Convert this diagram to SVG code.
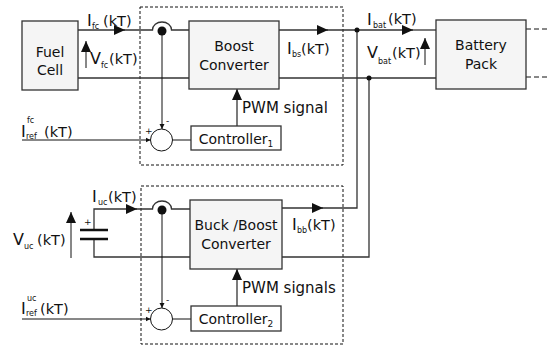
<svg xmlns="http://www.w3.org/2000/svg" width="547" height="347" viewBox="0 0 547 347">
<defs>
<marker id="arr" markerUnits="userSpaceOnUse" markerWidth="12" markerHeight="10" refX="11" refY="5" orient="auto">
<path d="M0,0 L11,5 L0,10 Z" fill="#111"/>
</marker>
<marker id="sarr" markerUnits="userSpaceOnUse" markerWidth="6" markerHeight="6" refX="5" refY="3" orient="auto">
<path d="M0,0.5 L5,3 L0,5.5 Z" fill="#111"/>
</marker>
</defs>
<style>
.box{fill:#f5f5f5;stroke:#333;stroke-width:1.3}
.ctl{fill:#fff;stroke:#333;stroke-width:1.3}
.dash{fill:none;stroke:#111;stroke-width:1;stroke-dasharray:3,2}
.w{fill:none;stroke:#333;stroke-width:1.3}
.thin{fill:none;stroke:#111;stroke-width:1}
.sum{fill:#fff;stroke:#111;stroke-width:1}
.dot{fill:#111}
text{font-family:"DejaVu Sans",sans-serif;fill:#111}
.bt{font-size:14px;text-anchor:middle}
.lb{font-size:14.5px}
.big{font-size:16px}
.sb{font-size:8px}
.pwm{font-size:15px}
.sg{font-size:9px}
</style>

<g id="area1"><rect class="dash" x="140" y="7" width="203" height="158"/></g>
<g id="area2"><rect class="dash" x="141" y="186" width="202" height="158"/></g>

<g id="connectors">
<path class="w" d="M78,30 H125" marker-end="url(#arr)"/>
<path class="w" d="M124,30 H152.5 A9.5,8 0 0 1 171.5,30 H189"/>
<path class="w" d="M78,78 H189"/>
<path class="w" d="M279,30 H328" marker-end="url(#arr)"/>
<path class="w" d="M327,30 H413" marker-end="url(#arr)"/>
<path class="w" d="M412,30 H436"/>
<path class="w" d="M279,78 H436"/>
<path class="w" d="M282,208 H323" marker-end="url(#arr)"/>
<path class="w" d="M322,208 H357 V30"/>
<path class="w" d="M282,257 H369 V78"/>
<path class="thin" d="M162,31 V129" marker-end="url(#sarr)"/>
<path class="thin" d="M22,140 H150.5" marker-end="url(#sarr)"/>
<path class="thin" d="M172.5,140 H191"/>
<path class="w" d="M237,126 V89" marker-end="url(#arr)"/>
<path class="w" d="M94,230 V209 H137" marker-end="url(#arr)"/>
<path class="w" d="M136,209 H152.5 A9.5,8 0 0 1 171.5,209 H190"/>
<path class="w" d="M94,239 V257 H190"/>
<path class="thin" d="M162,210 V308" marker-end="url(#sarr)"/>
<path class="thin" d="M22,319 H150.5" marker-end="url(#sarr)"/>
<path class="thin" d="M172.5,319 H191"/>
<path class="w" d="M237,306 V269" marker-end="url(#arr)"/>
<path class="thin" d="M86,68 V41" marker-end="url(#arr)"/>
<path class="thin" d="M425,65 V38" marker-end="url(#arr)"/>
<path class="thin" d="M71,258 V212" marker-end="url(#arr)"/>
<path class="dash" d="M526,29 H547 M526,77 H547" style="stroke-dasharray:5,3"/>
<circle class="dot" cx="162" cy="31" r="4.5"/>
<circle class="dot" cx="162" cy="210" r="4.5"/>
<circle class="dot" cx="357" cy="30" r="2.5"/>
<circle class="dot" cx="369" cy="78" r="2.5"/>
</g>

<g id="fuelcell">
<rect class="box" x="22" y="21" width="56" height="69"/>
<text class="bt" x="50" y="57">Fuel</text>
<text class="bt" x="50" y="75">Cell</text>
</g>

<g id="boost">
<rect class="box" x="189" y="21" width="90" height="68"/>
<text class="bt" x="234" y="51">Boost</text>
<text class="bt" x="234" y="70">Converter</text>
</g>

<g id="battery">
<rect class="box" x="436" y="20" width="90" height="69"/>
<text class="bt" x="481" y="50">Battery</text>
<text class="bt" x="481" y="69">Pack</text>
</g>

<g id="buckboost">
<rect class="box" x="190" y="200" width="92" height="69"/>
<text class="bt" x="236" y="230">Buck /Boost</text>
<text class="bt" x="236" y="249">Converter</text>
</g>

<g id="controller1">
<rect class="ctl" x="191" y="126" width="90" height="24"/>
<text class="bt" x="236" y="144">Controller<tspan font-size="9" dy="3">1</tspan></text>
</g>

<g id="controller2">
<rect class="ctl" x="191" y="306" width="90" height="25"/>
<text class="bt" x="236" y="324">Controller<tspan font-size="9" dy="3">2</tspan></text>
</g>

<g id="sum1">
<circle class="sum" cx="161.5" cy="140" r="11"/>
<text class="sg" x="145" y="134">+</text>
<text class="sg" x="166" y="124">-</text>
</g>

<g id="sum2">
<circle class="sum" cx="161.5" cy="319" r="11"/>
<text class="sg" x="145" y="313">+</text>
<text class="sg" x="166" y="303">-</text>
</g>

<g id="capacitor">
<path d="M80,230 H108 M80,239 H108" stroke="#111" stroke-width="2.6"/>
<text class="sg" x="84" y="225">+</text>
</g>

<g id="labels">
<text class="big" x="87" y="26">I</text><text class="sb" x="92" y="29">fc</text><text class="lb" x="103" y="26">(kT)</text>
<text class="big" x="90" y="64">V</text><text class="sb" x="101" y="68">fc</text><text class="lb" x="109" y="64">(kT)</text>
<text class="big" x="287" y="54">I</text><text class="sb" x="292" y="57">bs</text><text class="lb" x="301" y="54">(kT)</text>
<text class="big" x="367" y="25">I</text><text class="sb" x="373" y="28">bat</text><text class="lb" x="388" y="24">(kT)</text>
<text class="big" x="367" y="58">V</text><text class="sb" x="378" y="64">bat</text><text class="lb" x="392" y="58">(kT)</text>
<text class="big" x="292" y="230">I</text><text class="sb" x="297" y="233">bb</text><text class="lb" x="307" y="230">(kT)</text>
<text class="big" x="92" y="202">I</text><text class="sb" x="98" y="205">uc</text><text class="lb" x="108" y="202">(kT)</text>
<text class="big" x="13" y="245">V</text><text class="sb" x="24" y="249">uc</text><text class="lb" x="37" y="245">(kT)</text>
<text class="big" x="21" y="137">I</text><text class="sb" x="27" y="123">fc</text><text class="sb" x="26" y="139">ref</text><text class="lb" x="44" y="137">(kT)</text>
<text class="big" x="21" y="314">I</text><text class="sb" x="27" y="301">uc</text><text class="sb" x="26" y="316">ref</text><text class="lb" x="40" y="314">(kT)</text>
<text class="pwm" x="242" y="113">PWM signal</text>
<text class="pwm" x="242" y="293">PWM signals</text>
</g>
</svg>
